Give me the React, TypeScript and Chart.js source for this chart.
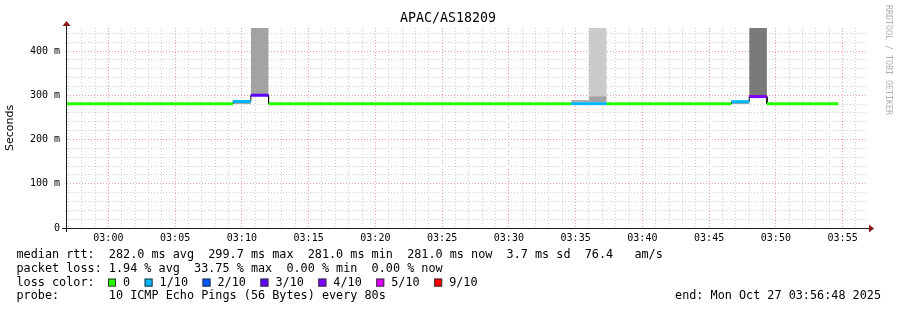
import React, { useEffect, useRef } from 'react';
import { Chart, registerables } from 'chart.js';

Chart.register(...registerables);

// ---------- data ----------
const TITLE = 'APAC/AS18209';
const Y_TITLE = 'Seconds';
const CREDIT = 'RRDTOOL / TOBI OETIKER';

// sample boundaries, minutes after 03:00 (80 s steps); last entry = end of data
const stepTimes = [-4, 9.33, 10.67, 12.0, 34.67, 36.0, 37.33, 46.67, 48.0, 49.33, 54.67];
// median rtt per sample interval (ms)
const medianRtt = [281, 286, 300, 281, 281, 281, 281, 285.5, 297, 281];
// loss colour index per interval
const lossLevel = [0, 1, 3, 0, 1, 1, 0, 1, 4, 0];

// smoke blocks (ms)
const smokeStart = [9.33, 10.67, 34.67, 36.0, 36.0, 46.67, 48.0];
const smokeEnd = [10.67, 12.0, 36.0, 37.33, 37.33, 48.0, 49.33];
const smokeLow = [280, 300, 284, 284, 298, 280, 297];
const smokeHigh = [285, 480, 289, 298, 480, 284, 480];
const smokeShade = ['#a3a3a3', '#a3a3a3', '#ababab', '#a3a3a3', '#cbcbcb', '#a3a3a3', '#7a7a7a'];

const lossLabels = ['0', '1/10', '2/10', '3/10', '4/10', '5/10', '9/10'];
const lossColors = ['#26ff00', '#00b8ff', '#0059ff', '#5e00ff', '#7e00ff', '#dd00ff', '#ff0000'];

const xTickLabels = ['03:00', '03:05', '03:10', '03:15', '03:20', '03:25', '03:30', '03:35', '03:40', '03:45', '03:50', '03:55'];
const yTickLabels = ['0', '100 m', '200 m', '300 m', '400 m'];

const statsLines = [
  'median rtt:  282.0 ms avg  299.7 ms max  281.0 ms min  281.0 ms now  3.7 ms sd  76.4   am/s',
  'packet loss: 1.94 % avg  33.75 % max  0.00 % min  0.00 % now',
];
const lossLegendTitle = 'loss color:';
const probeLine = 'probe:       10 ICMP Echo Pings (56 Bytes) every 80s';
const endLine = 'end: Mon Oct 27 03:56:48 2025';

// ---------- axis geometry ----------
const X_MIN = -3.1;
const X_MAX = 56.9;
const Y_MIN = 0;
const Y_MAX = 452;

const MONO = '"DejaVu Sans Mono", monospace';
const GRID_MINOR = '#d0d0d0';
const GRID_MAJOR = '#f0a0a0';

const minuteTicks: number[] = [];
for (let m = Math.ceil(X_MIN); m <= Math.floor(X_MAX); m++) minuteTicks.push(m);
const yGridTicks: number[] = [];
for (let v = 0; v <= Y_MAX; v += 20) yGridTicks.push(v);

const decor = {
  id: 'decor',
  afterDraw(chart: any) {
    const { ctx, chartArea: a } = chart;
    ctx.save();
    // axes
    ctx.strokeStyle = '#1c1c1c';
    ctx.lineWidth = 1;
    ctx.beginPath();
    ctx.moveTo(a.left - 5, a.bottom + 0.5);
    ctx.lineTo(a.right + 2, a.bottom + 0.5);
    ctx.moveTo(a.left - 0.5, a.bottom + 4);
    ctx.lineTo(a.left - 0.5, a.top - 2);
    ctx.stroke();
    // arrows
    ctx.fillStyle = '#8b1818';
    ctx.beginPath();
    ctx.moveTo(a.right + 1, a.bottom - 3.5);
    ctx.lineTo(a.right + 6, a.bottom + 0.5);
    ctx.lineTo(a.right + 1, a.bottom + 4.5);
    ctx.closePath();
    ctx.fill();
    ctx.beginPath();
    ctx.moveTo(a.left - 4.5, a.top - 2);
    ctx.lineTo(a.left - 0.5, a.top - 7);
    ctx.lineTo(a.left + 3.5, a.top - 2);
    ctx.closePath();
    ctx.fill();

    // title
    ctx.fillStyle = '#000';
    ctx.font = `13.3px ${MONO}`;
    ctx.textAlign = 'center';
    ctx.textBaseline = 'middle';
    ctx.fillText(TITLE, 448, 19);

    // credit
    ctx.save();
    ctx.translate(888, 5);
    ctx.rotate(Math.PI / 2);
    ctx.font = `8.3px ${MONO}`;
    ctx.fillStyle = '#b0b0b0';
    ctx.textAlign = 'left';
    ctx.textBaseline = 'middle';
    ctx.fillText(CREDIT, 0, 0);
    ctx.restore();

    // legend
    const lx = 16.5;
    const ly = [255, 268.8, 282.6, 296.4];
    ctx.font = `11.8px ${MONO}`;
    ctx.textAlign = 'left';
    ctx.textBaseline = 'middle';
    ctx.fillStyle = '#000';
    ctx.fillText(statsLines[0], lx, ly[0]);
    ctx.fillText(statsLines[1], lx, ly[1]);
    ctx.fillText(lossLegendTitle, lx, ly[2]);
    let sx = 108;
    lossLabels.forEach((lab, i) => {
      ctx.fillStyle = lossColors[i];
      ctx.fillRect(sx, ly[2] - 4, 8, 8);
      ctx.strokeStyle = '#333';
      ctx.lineWidth = 1;
      ctx.strokeRect(sx + 0.5, ly[2] - 4 + 0.5, 7, 7);
      ctx.fillStyle = '#000';
      ctx.fillText(lab, sx + 15, ly[2]);
      sx = sx + 15 + ctx.measureText(lab).width + 14.5;
    });
    ctx.fillText(probeLine, lx, ly[3]);
    ctx.textAlign = 'right';
    ctx.fillText(endLine, 881, ly[3]);
    ctx.restore();
  },
};

export default function App() {
  const ref = useRef<HTMLCanvasElement>(null);

  useEffect(() => {
    document.body.style.margin = '0';
    const canvas = ref.current;
    if (!canvas) return;

    // colored median: one horizontal segment per interval, gaps between
    const coloredPts: any[] = [];
    const blackPts: any[] = [];
    for (let i = 0; i < medianRtt.length; i++) {
      coloredPts.push({ x: stepTimes[i], y: medianRtt[i] });
      coloredPts.push({ x: stepTimes[i + 1], y: medianRtt[i] });
      coloredPts.push({ x: stepTimes[i + 1], y: null });
      blackPts.push({ x: stepTimes[i], y: medianRtt[i] });
      blackPts.push({ x: stepTimes[i + 1], y: medianRtt[i] });
    }

    const smokeSets = smokeStart.map((s, i) => ({
      type: 'line' as const,
      data: [
        { x: s, y: smokeHigh[i] },
        { x: smokeEnd[i], y: smokeHigh[i] },
      ],
      borderWidth: 1,
      borderColor: 'rgba(0,0,0,0)',
      backgroundColor: smokeShade[i],
      fill: { value: smokeLow[i] },
      pointRadius: 0,
      order: 2 + i,
    }));

    const chart = new Chart(canvas, {
      type: 'line',
      data: {
        datasets: [
          {
            data: coloredPts,
            borderWidth: 3,
            borderColor: lossColors[0],
            segment: {
              borderColor: (c: any) => lossColors[lossLevel[Math.floor(c.p0DataIndex / 3)]],
            },
            pointRadius: 0,
            spanGaps: false,
            fill: false,
            order: 0,
          },
          {
            data: blackPts,
            borderWidth: 1,
            borderColor: '#000',
            pointRadius: 0,
            fill: false,
            order: 1,
          },
          ...smokeSets,
        ] as any,
      },
      options: {
        responsive: false,
        animation: false,
        devicePixelRatio: 1,
        events: [],
        layout: { padding: { left: 0, right: 29, top: 28, bottom: 0 } },
        plugins: {
          legend: { display: false },
          tooltip: { enabled: false },
          title: { display: false },
        },
        scales: {
          x: {
            type: 'linear',
            min: X_MIN,
            max: X_MAX,
            afterBuildTicks: (s: any) => {
              s.ticks = minuteTicks.map((v) => ({ value: v }));
            },
            afterFit: (s: any) => {
              s.height = 82;
            },
            grid: {
              color: (c: any) => (c.tick && c.tick.value % 5 === 0 ? GRID_MAJOR : GRID_MINOR),
              drawTicks: false,
              lineWidth: 1,
            },
            border: { display: false, dash: [1, 2] },
            ticks: {
              autoSkip: false,
              maxRotation: 0,
              minRotation: 0,
              padding: 4,
              color: '#000',
              font: { family: 'DejaVu Sans Mono', size: 10 },
              callback: (v: any) => {
                const n = Number(v);
                return n >= 0 && n % 5 === 0 ? xTickLabels[n / 5] : '';
              },
            },
          },
          y: {
            type: 'linear',
            min: Y_MIN,
            max: Y_MAX,
            afterBuildTicks: (s: any) => {
              s.ticks = yGridTicks.map((v) => ({ value: v }));
            },
            afterFit: (s: any) => {
              s.width = 67;
            },
            grid: {
              color: (c: any) => {
                const v = c.tick ? c.tick.value : -1;
                if (v === 0) return 'rgba(0,0,0,0)';
                return v % 100 === 0 ? GRID_MAJOR : GRID_MINOR;
              },
              drawTicks: false,
              lineWidth: 1,
            },
            border: { display: false, dash: [1, 2] },
            ticks: {
              autoSkip: false,
              padding: 7,
              color: '#000',
              font: { family: 'DejaVu Sans Mono', size: 10 },
              callback: (v: any) => {
                const n = Number(v);
                return n % 100 === 0 ? yTickLabels[n / 100] : '';
              },
            },
            title: {
              display: true,
              text: Y_TITLE,
              color: '#000',
              font: { family: 'DejaVu Sans', size: 11 },
              padding: { top: 4, bottom: 0 },
            },
          },
        },
      },
      plugins: [decor],
    } as any);

    return () => chart.destroy();
  }, []);

  return (
    <div style={{ width: 897, height: 310, background: '#fff' }}>
      <canvas ref={ref} width={897} height={310} style={{ display: 'block', width: 897, height: 310 }} />
    </div>
  );
}
